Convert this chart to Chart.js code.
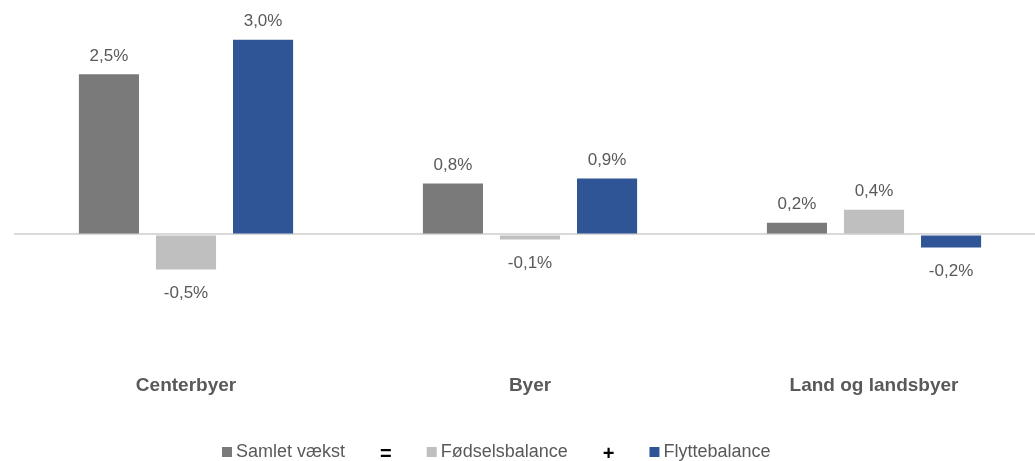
<!DOCTYPE html>
<html>
<head>
<meta charset="utf-8">
<script src="https://cdn.jsdelivr.net/npm/chart.js@4/dist/chart.umd.min.js"></script>
<style>
  html, body { margin: 0; padding: 0; background: #fff; overflow: hidden; }
  #wrap { width: 1048px; height: 461px; position: relative; }
</style>
</head>
<body>
<div id="wrap"><canvas id="growthChart"></canvas></div>
<script>
const categories = ['Centerbyer', 'Byer', 'Land og landsbyer'];
const seriesNames = ['Samlet vækst', 'Fødselsbalance', 'Flyttebalance'];
const samletVaekst = [2.46, 0.78, 0.18];
const foedselsbalance = [-0.54, -0.08, 0.38];
const flyttebalance = [2.99, 0.86, -0.2];
const seriesColors = ['#7a7a7a', '#bfbfbf', '#2f5597'];
const legendJoins = ['=', '+'];

const FONT = '"Liberation Sans", Arial, sans-serif';
const TEXT = '#595959';

function fmt(v) {
    return v.toFixed(1).replace('.', ',') + '%';
}

// value labels above / below each bar
const barLabels = {
    id: 'barLabels',
    afterDatasetsDraw(chart) {
        const ctx = chart.ctx;
        ctx.save();
        ctx.font = '17px ' + FONT;
        ctx.fillStyle = TEXT;
        ctx.textAlign = 'center';
        ctx.textBaseline = 'middle';
        chart.data.datasets.forEach((ds, i) => {
            chart.getDatasetMeta(i).data.forEach((bar, j) => {
                const v = ds.data[j];
                const y = v >= 0 ? bar.y - 18 : bar.y + 24;
                ctx.fillText(fmt(v), bar.x, y);
            });
        });
        ctx.restore();
    }
};

// legend with "=" and "+" between the items
const equationLegend = {
    id: 'equationLegend',
    afterDraw(chart) {
        const ctx = chart.ctx;
        const y = 452;
        let x = 222;
        ctx.save();
        ctx.textBaseline = 'middle';
        ctx.textAlign = 'left';
        chart.data.datasets.forEach((ds, i) => {
            ctx.fillStyle = ds.backgroundColor;
            ctx.fillRect(x, y - 5, 10, 10);
            x += 14;
            ctx.font = '18px ' + FONT;
            ctx.fillStyle = TEXT;
            ctx.fillText(ds.label, x, y);
            x += ctx.measureText(ds.label).width;
            if (i < legendJoins.length) {
                x += 35;
                ctx.font = 'bold 20px ' + FONT;
                ctx.fillStyle = '#000';
                ctx.fillText(legendJoins[i], x, y + 2);
                x += ctx.measureText(legendJoins[i]).width + 35;
            }
        });
        ctx.restore();
    }
};

new Chart(
    document.getElementById('growthChart'),
    {
        type: 'bar',
        data: {
            labels: categories,
            datasets: [
                { label: seriesNames[0], data: samletVaekst, backgroundColor: seriesColors[0] },
                { label: seriesNames[1], data: foedselsbalance, backgroundColor: seriesColors[1] },
                { label: seriesNames[2], data: flyttebalance, backgroundColor: seriesColors[2] }
            ]
        },
        options: {
            responsive: true,
            maintainAspectRatio: false,
            animation: false,
            categoryPercentage: 0.672,
            barPercentage: 0.78,
            layout: { padding: { left: 14, right: 2, top: 0, bottom: 52 } },
            plugins: {
                legend: { display: false },
                tooltip: { enabled: false }
            },
            scales: {
                x: {
                    grid: { display: false },
                    border: { display: false },
                    ticks: {
                        color: TEXT,
                        padding: 12,
                        font: { family: FONT, size: 19, weight: 'bold' }
                    }
                },
                y: {
                    min: -1.84,
                    max: 3.6,
                    border: { display: false },
                    grid: {
                        drawTicks: false,
                        lineWidth: 2,
                        color: c => c.tick.value === 0 ? '#d9d9d9' : 'transparent'
                    },
                    ticks: { display: false, stepSize: 0.2 }
                }
            }
        },
        plugins: [barLabels, equationLegend]
    }
);
</script>
</body>
</html>
